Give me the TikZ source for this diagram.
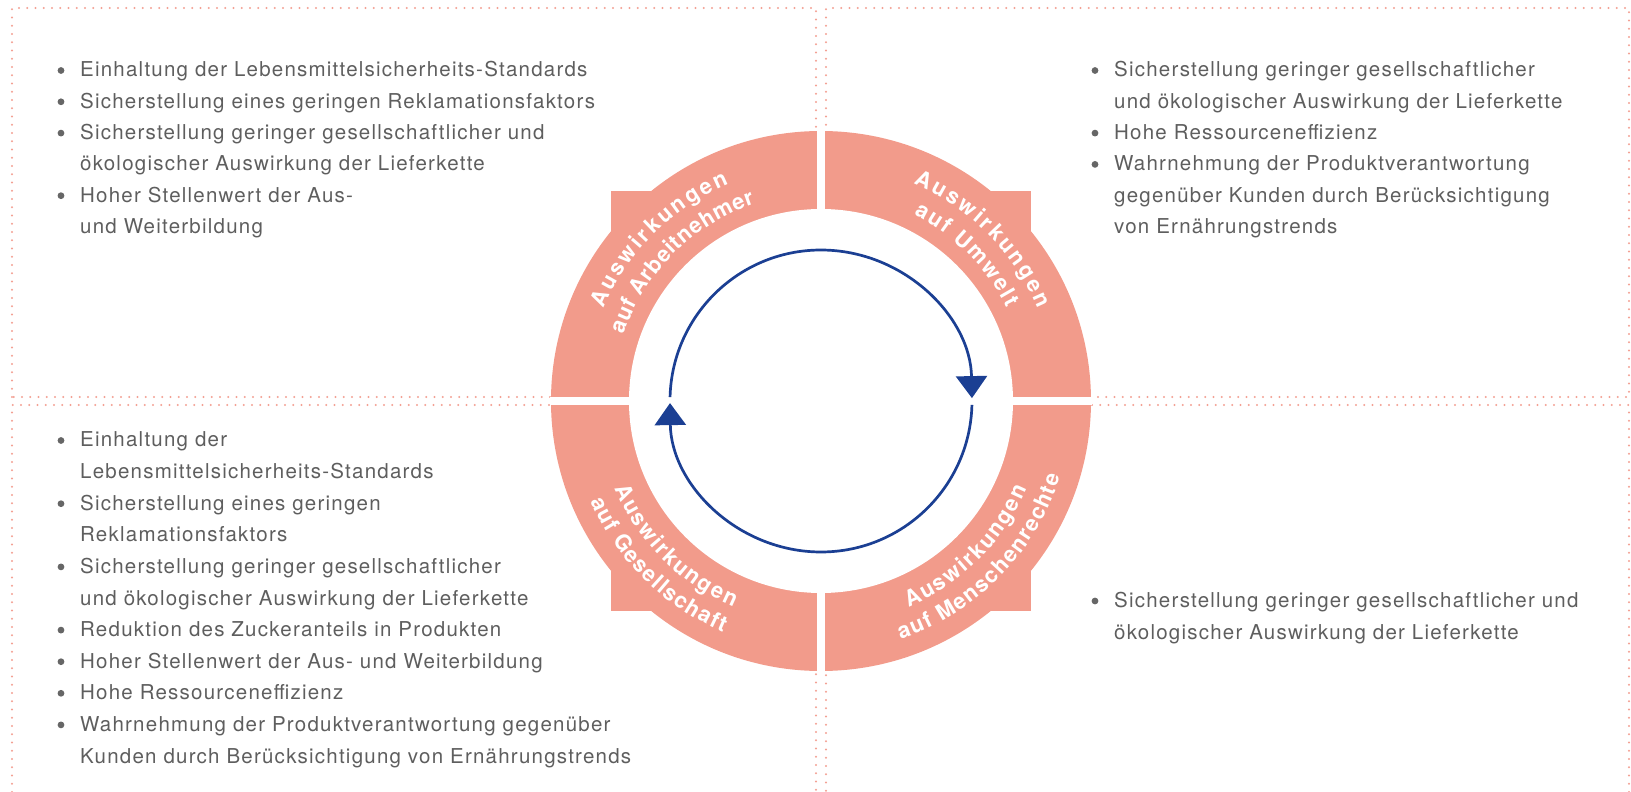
\documentclass[tikz,border=0pt]{standalone}
\usepackage{fontspec}
\setmainfont{TeX Gyre Heros}[LetterSpace=6]
\newfontfamily\ringfont{TeX Gyre Heros}
\usetikzlibrary{arrows.meta,decorations.text}
\definecolor{lachs}{HTML}{F29B8B}
\definecolor{punktlinie}{HTML}{F3A093}
\definecolor{blau}{HTML}{1B3F93}
\definecolor{textgrau}{HTML}{5E5E5E}
\definecolor{punktgrau}{HTML}{666666}
\newcommand\ringschrift{\ringfont\bfseries\fontsize{22}{22}\selectfont}
\begin{document}
\begin{tikzpicture}[x=1pt, y=1pt,
  zeile/.style={anchor=base west, inner sep=0pt, text=textgrau, font=\fontsize{20.5}{31}\selectfont},
  punkt/.style={fill=punktgrau},
  rahmen/.style={draw=punktlinie, line width=2.2pt, line cap=round, dash pattern=on 0pt off 8.25pt},
  pfeil/.style={draw=blau, line width=2.7pt, -{Triangle[width=31pt,length=22pt]}},
  ringtext/.style={decorate, decoration={text along path, text align=fit to path, text color=white, text={|\ringschrift|#1}}}]
\useasboundingbox (-821,-391) rectangle (810,401);
% Rahmen
\draw[rahmen] (-809,4) rectangle (-5,393);
\draw[rahmen] (5,4) rectangle (808,393);
\draw[rahmen] (-809,-391) -- (-809,-4) -- (-5,-4) -- (-5,-391);
\draw[rahmen] (808,-391) -- (808,-4) -- (5,-4) -- (5,-391);
% Ring
\fill[lachs] (0,0) circle[radius=270];
\foreach \sx/\sy in {1/1,-1/1,-1/-1,1/-1}
  \fill[lachs] (210*\sx,210*\sy) rectangle (150*\sx,150*\sy);
\fill[white] (0,0) circle[radius=192];
% Fugen
\fill[white] (-4,-271) rectangle (4,271);
\fill[white] (-271,-4) rectangle (271,4);
% Beschriftung Ring
\path[ringtext=Auswirkungen] (157:236) arc[start angle=157, end angle=113, radius=236];
\path[ringtext=auf Arbeitnehmer] (161.5:208) arc[start angle=161.5, end angle=108.5, radius=208];
\path[ringtext=Auswirkungen] (67:236) arc[start angle=67, end angle=23, radius=236];
\path[ringtext=auf Umwelt] (63.5:208) arc[start angle=63.5, end angle=26.5, radius=208];
\path[ringtext=Auswirkungen] (203:224) arc[start angle=203, end angle=247, radius=224];
\path[ringtext=auf Gesellschaft] (203.5:251) arc[start angle=203.5, end angle=247, radius=251];
\path[ringtext=Auswirkungen] (293:224) arc[start angle=293, end angle=337, radius=224];
\path[ringtext=auf Menschenrechte] (288.5:251) arc[start angle=288.5, end angle=342.5, radius=251];
% Pfeile
\draw[pfeil] (178.5:151) arc[start angle=178.5, end angle=1.1, radius=151];
\draw[pfeil] (-1.5:151) arc[start angle=-1.5, end angle=-179.2, radius=151];
% Texte oben links
\foreach \t [count=\i] in {Einhaltung der Lebensmittelsicherheits-Standards,
    Sicherstellung eines geringen Reklamationsfaktors,
    Sicherstellung geringer gesellschaftlicher und,
    ökologischer Auswirkung der Lieferkette,
    Hoher Stellenwert der Aus-,
    und Weiterbildung}
  \node[zeile] (lo\i) at (-741,{324-31.3*(\i-1)}) {\t};
\foreach \i in {1,2,3,5}
  \fill[punkt] ([shift={(-19,6.5)}]lo\i.base west) circle[radius=3.4];
% Texte oben rechts
\foreach \t [count=\i] in {Sicherstellung geringer gesellschaftlicher,
    und ökologischer Auswirkung der Lieferkette,
    Hohe Ressourceneffizienz,
    Wahrnehmung der Produktverantwortung,
    gegenüber Kunden durch Berücksichtigung,
    von Ernährungstrends}
  \node[zeile] (ro\i) at (293,{324-31.3*(\i-1)}) {\t};
\foreach \i in {1,3,4}
  \fill[punkt] ([shift={(-19,6.5)}]ro\i.base west) circle[radius=3.4];
% Texte unten links
\foreach \t [count=\i] in {Einhaltung der,
    Lebensmittelsicherheits-Standards,
    Sicherstellung eines geringen,
    Reklamationsfaktors,
    Sicherstellung geringer gesellschaftlicher,
    und ökologischer Auswirkung der Lieferkette,
    Reduktion des Zuckeranteils in Produkten,
    Hoher Stellenwert der Aus- und Weiterbildung,
    Hohe Ressourceneffizienz,
    Wahrnehmung der Produktverantwortung gegenüber,
    Kunden durch Berücksichtigung von Ernährungstrends}
  \node[zeile] (lu\i) at (-741,{-46-31.6*(\i-1)}) {\t};
\foreach \i in {1,3,5,7,8,9,10}
  \fill[punkt] ([shift={(-19,6.5)}]lu\i.base west) circle[radius=3.4];
% Texte unten rechts
\foreach \t [count=\i] in {Sicherstellung geringer gesellschaftlicher und,
    ökologischer Auswirkung der Lieferkette}
  \node[zeile] (ru\i) at (293,{-206.5-31.6*(\i-1)}) {\t};
\fill[punkt] ([shift={(-19,6.5)}]ru1.base west) circle[radius=3.4];
\end{tikzpicture}
\end{document}
